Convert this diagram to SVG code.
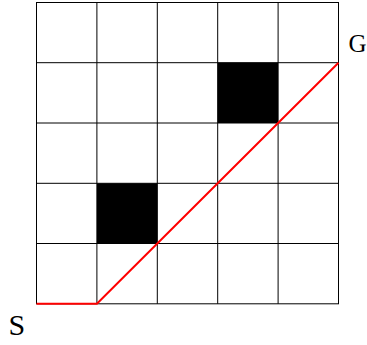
<svg xmlns="http://www.w3.org/2000/svg" width="367" height="345" viewBox="0 0 367 345">
<style>
.grid{stroke:#000;stroke-width:1;fill:none}
.lbl{font-family:"Liberation Serif","Times New Roman",serif;fill:#000}
</style>
<rect width="367" height="345" fill="#fff"/>
<g id="obstacles">
<rect x="217.7" y="62.7" width="60.4" height="60.3" fill="#000"/>
<rect x="96.9" y="183.3" width="60.4" height="60.2" fill="#000"/>
</g>
<g id="grid" class="grid">
<rect x="36.5" y="2.5" width="302" height="301.3"/>
<path d="M96.9 2.5V303.8M157.3 2.5V303.8M217.7 2.5V303.8M278.1 2.5V303.8M36.5 62.7H338.5M36.5 123H338.5M36.5 183.3H338.5M36.5 243.5H338.5"/>
</g>
<g id="connectors">
<polyline points="36.5,303.8 96.9,303.8 338.5,62.7" fill="none" stroke="#f00" stroke-width="2"/>
</g>
<g id="S"><text class="lbl" x="8.5" y="335" font-size="30">S</text></g>
<g id="G"><text class="lbl" x="348.5" y="51.5" font-size="25">G</text></g>
</svg>
